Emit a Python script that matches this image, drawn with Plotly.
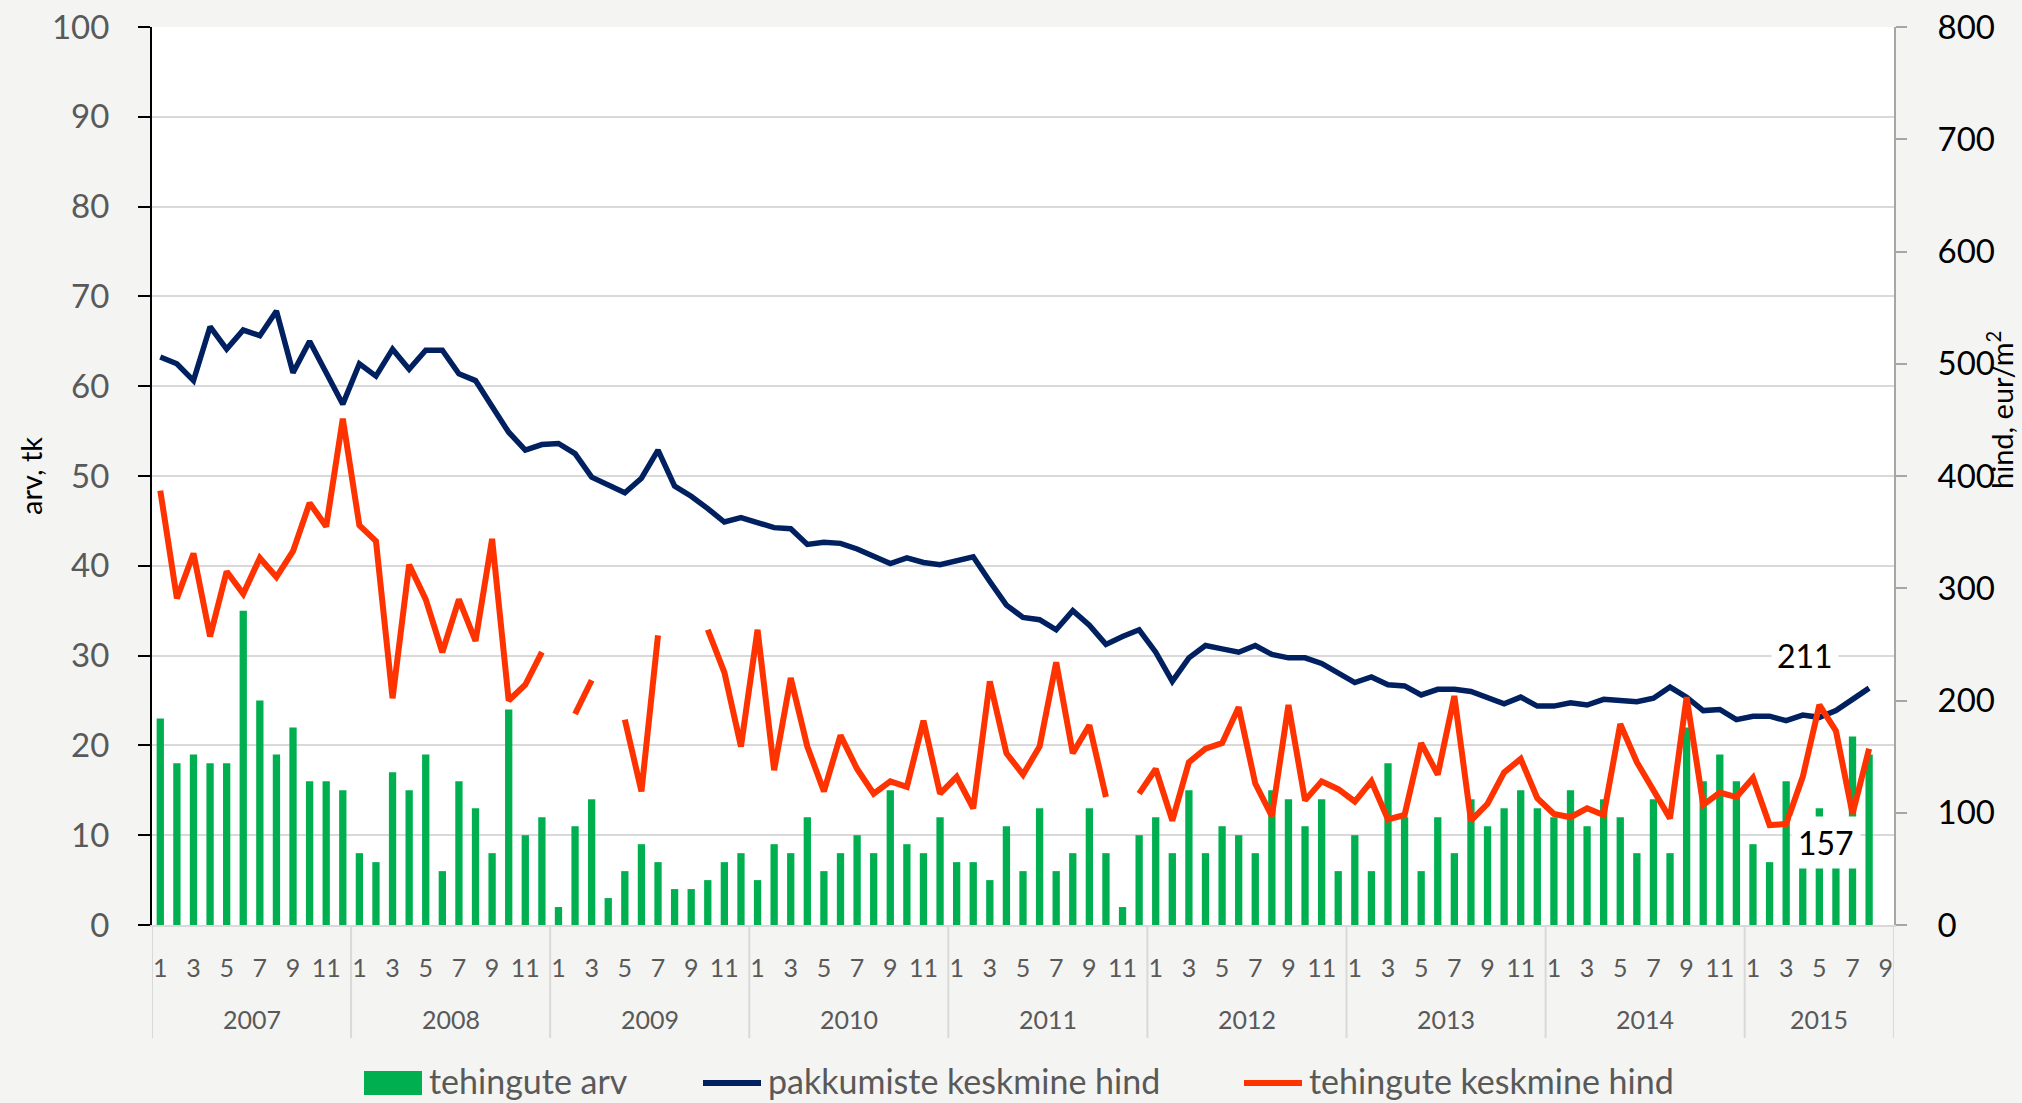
import plotly.graph_objects as go

years = ["2007", "2008", "2009", "2010", "2011", "2012", "2013", "2014", "2015"]
months_per_year = [12, 12, 12, 12, 12, 12, 12, 12, 9]

# tehingute arv (left axis)
deals_count = [
    23, 18, 19, 18, 18, 35, 25, 19, 22, 16, 16, 15,
    8, 7, 17, 15, 19, 6, 16, 13, 8, 24, 10, 12,
    2, 11, 14, 3, 6, 9, 7, 4, 4, 5, 7, 8,
    5, 9, 8, 12, 6, 8, 10, 8, 15, 9, 8, 12,
    7, 7, 5, 11, 6, 13, 6, 8, 13, 8, 2, 10,
    12, 8, 15, 8, 11, 10, 8, 15, 14, 11, 14, 6,
    10, 6, 18, 12, 6, 12, 8, 14, 11, 13, 15, 13,
    12, 15, 11, 14, 12, 8, 14, 8, 22, 16, 19, 16,
    9, 7, 16, 10, 13, 11, 21, 19, None,
]

# pakkumiste keskmine hind (right axis, eur/m2)
offer_price = [
    506, 500, 485, 533, 513, 530, 525, 547, 492, 520, 492, 464,
    500, 489, 513, 495, 512, 512, 491, 485, 462, 439, 423, 428,
    429, 420, 399, 392, 385, 398, 423, 391, 382, 371, 359, 363,
    359, 354, 353, 339, 341, 340, 335, 329, 322, 327, 323, 321,
    324, 328, 306, 285, 274, 272, 263, 280, 267, 250, 257, 263,
    243, 217, 238, 249, 246, 243, 249, 241, 238, 238, 233, 224,
    216, 221, 214, 213, 205, 210, 210, 208, 203, 197, 203, 195,
    195, 198, 196, 201, 200, 199, 202, 212, 203, 191, 192, 183,
    186, 186, 182, 187, 185, 191, 201, 211, None,
]

# tehingute keskmine hind (right axis, eur/m2)
deal_price = [
    387, 291, 331, 257, 315, 295, 327, 310, 333, 376, 355, 451,
    356, 342, 202, 321, 290, 243, 290, 253, 344, 200, 214, 243,
    None, 188, 218, None, 183, 119, 258, None, None, 263, 225, 159,
    263, 138, 220, 159, 119, 169, 139, 117, 128, 123, 182, 117,
    132, 104, 217, 153, 134, 159, 234, 153, 178, 114, None, 117,
    139, 93, 145, 157, 162, 194, 126, 97, 196, 111, 128, 121,
    110, 128, 94, 98, 162, 134, 204, 93, 108, 136, 148, 113,
    99, 96, 104, 98, 179, 145, 120, 95, 203, 107, 118, 114,
    131, 89, 90, 132, 196, 173, 99, 157, None,
]

series_names = ["tehingute arv", "pakkumiste keskmine hind", "tehingute keskmine hind"]
series_colors = ["#00b050", "#002060", "#ff3300"]

# build month index / labels
month_num = []
year_start = []
for y, n in zip(years, months_per_year):
    year_start.append(len(month_num))
    month_num.extend(range(1, n + 1))
idx = list(range(len(month_num)))
tick_vals = [i for i in idx if month_num[i] % 2 == 1]
tick_text = [str(month_num[i]) for i in tick_vals]

FONT = "Lato, 'Noto Sans', sans-serif"
GRID = "#d9d9d9"
PLOT_W = 2022 - 152 - 128
PLOT_H = 1103 - 27 - 178


def px_x(px):
    return (px - 152) / PLOT_W


def px_y(py):
    return (1103 - 178 - py) / PLOT_H


fig = go.Figure()
fig.add_trace(go.Bar(
    x=idx, y=deals_count, name=series_names[0],
    marker=dict(color=series_colors[0], line=dict(width=0)), width=0.44,
))
fig.add_trace(go.Scatter(
    x=idx, y=offer_price, name=series_names[1], yaxis="y2", mode="lines",
    line=dict(color=series_colors[1], width=5.5), connectgaps=False,
))
fig.add_trace(go.Scatter(
    x=idx, y=deal_price, name=series_names[2], yaxis="y2", mode="lines",
    line=dict(color=series_colors[2], width=6), connectgaps=False,
))

shapes = []
bounds = [s - 0.5 for s in year_start] + [len(idx) - 0.5]
for b in bounds:
    shapes.append(dict(type="line", xref="x", yref="paper", x0=b, x1=b, y0=0, y1=px_y(1038),
                       line=dict(color=GRID, width=2), layer="below"))

annotations = []
for y, s, n in zip(years, year_start, months_per_year):
    annotations.append(dict(x=s + (n - 1) / 2, y=px_y(1019), xref="x", yref="paper", text=y,
                            showarrow=False, yanchor="middle",
                            font=dict(family=FONT, size=25, color="#595959")))

annotations.append(dict(x=px_x(30), y=0.5, xref="paper", yref="paper", text="arv, tk",
                        textangle=-90, showarrow=False, xanchor="center", yanchor="middle",
                        font=dict(family=FONT, size=29, color="#000000")))
annotations.append(dict(x=px_x(2000), y=px_y(410), xref="paper", yref="paper",
                        text="hind, eur/m<sup>2</sup>",
                        textangle=-90, showarrow=False, xanchor="center", yanchor="middle",
                        font=dict(family=FONT, size=29, color="#000000")))

last = len([v for v in offer_price if v is not None]) - 1
annotations.append(dict(x=idx[last], y=offer_price[last], xref="x", yref="y2",
                        text=str(offer_price[last]), showarrow=False, xshift=-64, yshift=33,
                        bgcolor="white", borderpad=5,
                        font=dict(family=FONT, size=32, color="#000000")))
annotations.append(dict(x=idx[last], y=deal_price[last], xref="x", yref="y2",
                        text=str(deal_price[last]), showarrow=False, xshift=-43, yshift=-94,
                        bgcolor="white", borderpad=6,
                        font=dict(family=FONT, size=32, color="#000000")))

# legend (drawn below the plot, like the original)
sym_starts = [364, 703, 1244]
sym_w = 58
for k, (name, col, sx) in enumerate(zip(series_names, series_colors, sym_starts)):
    if k == 0:
        shapes.append(dict(type="rect", xref="paper", yref="paper",
                           x0=px_x(sx), x1=px_x(sx + sym_w), y0=px_y(1095), y1=px_y(1071),
                           fillcolor=col, line=dict(width=0)))
    else:
        shapes.append(dict(type="line", xref="paper", yref="paper",
                           x0=px_x(sx), x1=px_x(sx + sym_w), y0=px_y(1083), y1=px_y(1083),
                           line=dict(color=col, width=6)))
    annotations.append(dict(x=px_x(sx + sym_w + 5), y=px_y(1080), xref="paper", yref="paper",
                            text=name, showarrow=False, xanchor="left", yanchor="middle",
                            font=dict(family=FONT, size=34, color="#595959")))

fig.update_layout(
    width=2022, height=1103,
    margin=dict(l=152, r=128, t=27, b=178, autoexpand=False),
    paper_bgcolor="#f4f4f2", plot_bgcolor="white",
    font=dict(family=FONT, color="#595959"),
    bargap=0.56,
    showlegend=False,
    xaxis=dict(range=[-0.5, len(idx) - 0.5], tickmode="array", tickvals=tick_vals, ticktext=tick_text,
               showgrid=False, zeroline=False, showline=True, linecolor=GRID, linewidth=2,
               ticks="outside", ticklen=20, tickcolor="rgba(0,0,0,0)", automargin=False,
               tickfont=dict(family=FONT, size=25, color="#595959")),
    yaxis=dict(range=[0, 100], dtick=10, showgrid=True, gridcolor=GRID, gridwidth=2,
               zeroline=False, showline=True, linecolor="#000000", linewidth=2,
               ticks="outside", ticklen=12, tickcolor="#000000", tickwidth=2,
               ticklabelstandoff=22, automargin=False,
               tickfont=dict(family=FONT, size=33, color="#595959")),
    yaxis2=dict(range=[0, 800], dtick=100, overlaying="y", side="right", showgrid=False,
                zeroline=False, showline=True, linecolor="#a6a6a6", linewidth=2,
                ticks="outside", ticklen=11, tickcolor="#a6a6a6", tickwidth=2,
                ticklabelstandoff=24, automargin=False,
                tickfont=dict(family=FONT, size=33, color="#000000")),
    shapes=shapes, annotations=annotations,
)

fig.write_html("out.html", config={"displayModeBar": False},
               post_script="document.body.style.margin='0px';document.body.style.overflow='hidden';")
